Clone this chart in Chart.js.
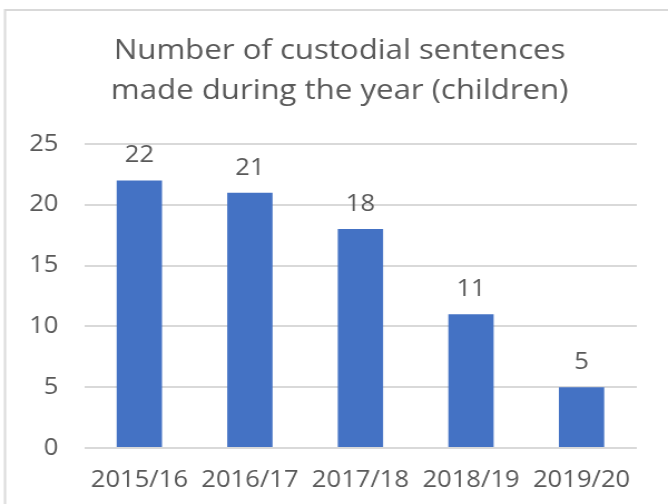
<!DOCTYPE html>
<html>
<head>
<meta charset="utf-8">
<script src="https://cdn.jsdelivr.net/npm/chart.js@4/dist/chart.umd.min.js"></script>
<style>
  html, body { margin: 0; padding: 0; background: #fff; overflow: hidden; }
  #chart { display: block; width: 668px !important; height: 504px !important; }
</style>
</head>
<body>
<canvas id="chart" width="600" height="504" style="width:668px;height:504px"></canvas>
<script>
// Custodial sentences for children, by financial year
const years = ['2015/16', '2016/17', '2017/18', '2018/19', '2019/20'];
const sentences = [22, 21, 18, 11, 5];
const yTicks = [0, 5, 10, 15, 20, 25];
const titleLines = ['Number of custodial sentences', 'made during the year (children)'];

const TEXT = '#595959';
const GRID = '#d9d9d9';
const FONT = '"Open Sans", "Noto Sans", sans-serif';

// thin frame along the top and left edges of the chart
const frame = {
  id: 'frame',
  beforeDraw(chart) {
    const ctx = chart.ctx;
    ctx.save();
    ctx.strokeStyle = GRID;
    ctx.lineWidth = 2;
    ctx.beginPath();
    ctx.moveTo(4.5, chart.height + 5);
    ctx.lineTo(4.5, 10);
    ctx.lineTo(chart.width + 5, 10);
    ctx.stroke();
    ctx.restore();
  }
};

// the frame continues past the right edge, so the title sits a little right of centre
const titleShift = {
  id: 'titleShift',
  afterLayout(chart) {
    const t = chart.titleBlock;
    if (t) { t.left += 6; t.right += 6; }
  }
};

// value written above each bar
const barValueLabels = {
  id: 'barValueLabels',
  afterDatasetsDraw(chart) {
    const ctx = chart.ctx;
    const meta = chart.getDatasetMeta(0);
    ctx.save();
    ctx.font = '23px ' + FONT;
    ctx.fillStyle = TEXT;
    ctx.textAlign = 'center';
    ctx.textBaseline = 'alphabetic';
    meta.data.forEach((bar, i) => {
      ctx.fillText(String(sentences[i]), bar.x, bar.y - 18);
    });
    ctx.restore();
  }
};

new Chart(document.getElementById('chart'), {
  type: 'bar',
  data: {
    labels: years,
    datasets: [{
      data: sentences,
      backgroundColor: '#4472C4',
      borderWidth: 0,
      barPercentage: 0.41,
      categoryPercentage: 1
    }]
  },
  options: {
    responsive: false,
    devicePixelRatio: 1,
    animation: false,
    layout: { padding: { left: 26, right: 28, top: 0, bottom: 0 } },
    plugins: {
      legend: { display: false },
      tooltip: { enabled: false },
      title: {
        display: true,
        text: titleLines,
        color: TEXT,
        font: { family: FONT, size: 28, weight: 'normal', lineHeight: 40 / 28 },
        padding: { top: 31, bottom: 33 }
      }
    },
    scales: {
      x: {
        grid: { display: false, drawTicks: false },
        border: { display: false },
        ticks: {
          color: TEXT,
          font: { family: FONT, size: 23 },
          padding: 19,
          autoSkip: false,
          maxRotation: 0
        },
        afterFit(scale) { scale.height = 56; }
      },
      y: {
        min: yTicks[0],
        max: yTicks[yTicks.length - 1],
        ticks: {
          stepSize: yTicks[1] - yTicks[0],
          color: TEXT,
          font: { family: FONT, size: 23 },
          padding: 23
        },
        grid: { color: GRID, lineWidth: 2, drawTicks: false },
        border: { display: false },
        afterFit(scale) { scale.width = 49.5; }
      }
    }
  },
  plugins: [frame, titleShift, barValueLabels]
});
</script>
</body>
</html>
